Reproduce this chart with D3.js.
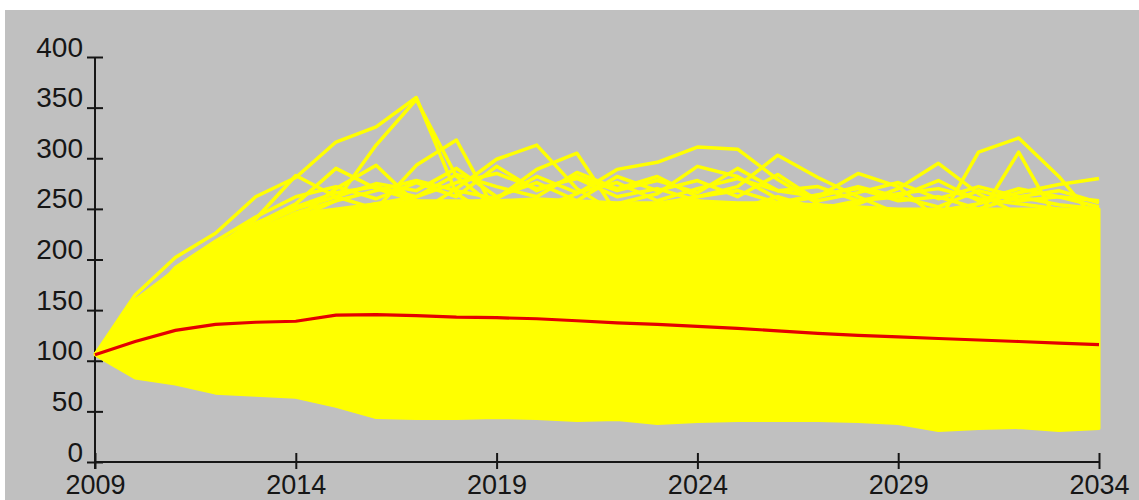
<!DOCTYPE html>
<html>
<head>
<meta charset="utf-8">
<script src="https://cdn.jsdelivr.net/npm/d3@7"></script>
<style>
  html, body { margin: 0; padding: 0; background: #ffffff; }
  svg { display: block; }
</style>
</head>
<body>
<svg id="chart" width="1139" height="500"></svg>
<script>
// ---------- data ----------
const years = [2009,2010,2011,2012,2013,2014,2015,2016,2017,2018,2019,2020,2021,
               2022,2023,2024,2025,2026,2027,2028,2029,2030,2031,2032,2033,2034];
const xTickYears = [2009,2014,2019,2024,2029,2034];
const yTickValues = [0,50,100,150,200,250,300,350,400];

// mean of all simulated paths (red)
const meanPath = [106,119,130,136,138,139,145,145.5,144.5,143,142.5,141.5,139.5,
                  137.5,136,134,132,129.5,127,125,123.5,122,120.5,119,117.5,116];

// envelope of the dense mass of simulated paths
const denseUpper = [106,160,190,208,230,245,250,255,258,258,258,260,258,
                    256,256,258,256,256,254,252,250,250,250,250,250,250];
const denseLower = [106,83,77,68,66,64,55,44,43,43,44,43,41,
                    42,38,40,41,41,41,40,38,31,33,34,31,33];

// individual simulated paths that stand out of the dense mass
const pathA = [106,165,202,226,262,281,316,331,360,265,240,230,225,220,218,225,230,220,215,210,205,210,200,205,210,215];
const pathB = [106,140,180,200,225,240,258,313,358,282,250,235,230,225,230,220,215,210,215,205,210,200,205,210,200,205];
const pathC = [106,135,170,195,215,235,245,250,293,318,245,230,225,220,215,210,220,215,210,205,200,210,205,200,205,210];
const pathD = [106,145,180,205,225,240,270,293,255,240,235,230,220,225,230,225,220,215,210,215,220,210,205,200,195,200];
const pathE = [106,130,160,190,210,225,235,240,245,270,299,313,270,245,235,230,225,220,215,210,215,220,215,210,205,200];
const pathF = [106,138,175,200,220,230,240,245,250,255,260,289,305,245,235,225,230,225,215,210,205,215,210,205,200,210];
const pathG = [106,142,170,195,215,230,235,240,245,250,255,250,265,289,296,311,309,279,255,240,235,230,225,220,215,210];
const pathH = [106,128,165,185,205,220,230,235,240,240,245,250,245,255,265,292,282,260,245,235,230,225,220,215,220,215];
const pathI = [106,133,168,192,212,228,238,242,248,245,240,245,250,245,255,262,272,303,281,262,245,235,230,225,220,215];
const pathJ = [106,136,172,196,214,232,240,244,246,250,248,252,246,248,250,252,248,255,262,285,272,240,235,230,225,220];
const pathK = [106,131,162,188,208,224,236,240,242,246,244,240,246,250,245,248,250,246,250,255,270,295,265,245,240,235];
const pathL = [106,137,170,194,210,226,234,242,240,244,246,248,244,240,246,250,244,248,246,240,245,237,306,320,282,235];
const pathM = [106,129,158,186,206,222,232,236,240,238,242,246,240,244,240,246,242,240,244,240,238,236,242,306,236,230];
const pathN = [106,134,166,190,210,226,236,240,244,240,246,244,246,240,244,238,246,242,240,246,242,248,255,266,274,280];
const pathO = [106,148,185,212,240,283,262,250,245,240,238,236,240,235,230,232,236,230,228,226,230,225,220,225,222,220];
const pathP = [106,152,190,215,235,255,290,270,258,250,245,240,238,236,240,238,235,232,236,230,228,232,230,226,228,225];
const pathR = [106,140,178,200,222,238,248,255,262,276,285,270,280,262,270,258,250,262,250,258,265,270,260,255,250,248];
const pathS = [106,145,182,206,228,246,258,268,278,268,260,282,266,276,258,270,280,268,272,258,262,252,268,258,262,252];
const pathT = [106,150,188,212,236,252,266,272,262,284,272,262,286,270,282,262,268,256,264,270,258,262,250,262,254,250];
const pathU = [106,155,186,210,232,250,262,275,268,290,262,276,258,282,268,278,262,284,258,266,276,260,272,262,268,256];
const pathV = [106,147,192,218,242,262,272,260,276,262,292,268,282,268,278,266,290,268,262,272,262,278,258,270,262,258];

const outlierPaths = [pathA,pathB,pathC,pathD,pathE,pathF,pathG,pathH,pathI,pathJ,
                      pathK,pathL,pathM,pathN,pathO,pathP,pathR,pathS,pathT,pathU,pathV];

// ---------- drawing ----------
const W = 1139, H = 500;
const svg = d3.select("#chart");

// grey panel (white strip at top and left like the source image)
svg.append("rect").attr("x", 5).attr("y", 10).attr("width", W - 5).attr("height", H - 10)
   .attr("fill", "#c0c0c0");

const x = d3.scaleLinear().domain([2009, 2034]).range([95, 1099]);
const y = d3.scaleLinear().domain([0, 400]).range([462, 57]);

const YELLOW = "#ffff00";
const RED = "#e40000";
const INK = "#161616";
const FONT = "'Liberation Sans', Arial, sans-serif";

// axes
const gAxes = svg.append("g");
gAxes.append("line").attr("x1", x(2009)).attr("x2", x(2009))
     .attr("y1", y(400)).attr("y2", y(0) + 7)
     .attr("stroke", INK).attr("stroke-width", 2);
gAxes.append("line").attr("x1", x(2009)).attr("x2", x(2034))
     .attr("y1", y(0)).attr("y2", y(0))
     .attr("stroke", INK).attr("stroke-width", 2);

const yAxis = gAxes.append("g").attr("transform", `translate(${x(2009)},0)`)
  .call(d3.axisLeft(y).tickValues(yTickValues).tickSizeOuter(0));
yAxis.select(".domain").remove();
yAxis.selectAll(".tick line").attr("x1", -8).attr("x2", 8)
     .attr("stroke", INK).attr("stroke-width", 2);
yAxis.selectAll(".tick text").attr("x", -12).attr("dy", 0).attr("y", -1)
     .attr("fill", INK).style("font-family", FONT).style("font-size", "28px")
     .attr("text-anchor", "end");

const xAxis = gAxes.append("g").attr("transform", `translate(0,${y(0)})`)
  .call(d3.axisBottom(x).tickValues(xTickYears).tickFormat(d3.format("d")).tickSizeOuter(0));
xAxis.select(".domain").remove();
xAxis.selectAll(".tick line").attr("y1", -9).attr("y2", 7)
     .attr("stroke", INK).attr("stroke-width", 2);
xAxis.selectAll(".tick text").attr("y", 32).attr("dy", 0)
     .attr("fill", INK).style("font-family", FONT).style("font-size", "27px")
     .attr("text-anchor", "middle");

// dense band of simulated paths
const bandData = years.map((yr, i) => ({yr, lo: denseLower[i], hi: denseUpper[i]}));
const area = d3.area().x(d => x(d.yr)).y0(d => y(d.lo)).y1(d => y(d.hi));
svg.append("path").datum(bandData).attr("d", area)
   .attr("fill", YELLOW).attr("stroke", YELLOW).attr("stroke-width", 3)
   .attr("stroke-linejoin", "round");

// individual outlying paths
const line = d3.line().x((d, i) => x(years[i])).y(d => y(d));
svg.append("g").selectAll("path").data(outlierPaths).join("path")
   .attr("d", line).attr("fill", "none").attr("stroke", YELLOW)
   .attr("stroke-width", 3.5).attr("stroke-linejoin", "round");

// mean path
svg.append("path").datum(meanPath).attr("d", line)
   .attr("fill", "none").attr("stroke", RED).attr("stroke-width", 3.2);
</script>
</body>
</html>
